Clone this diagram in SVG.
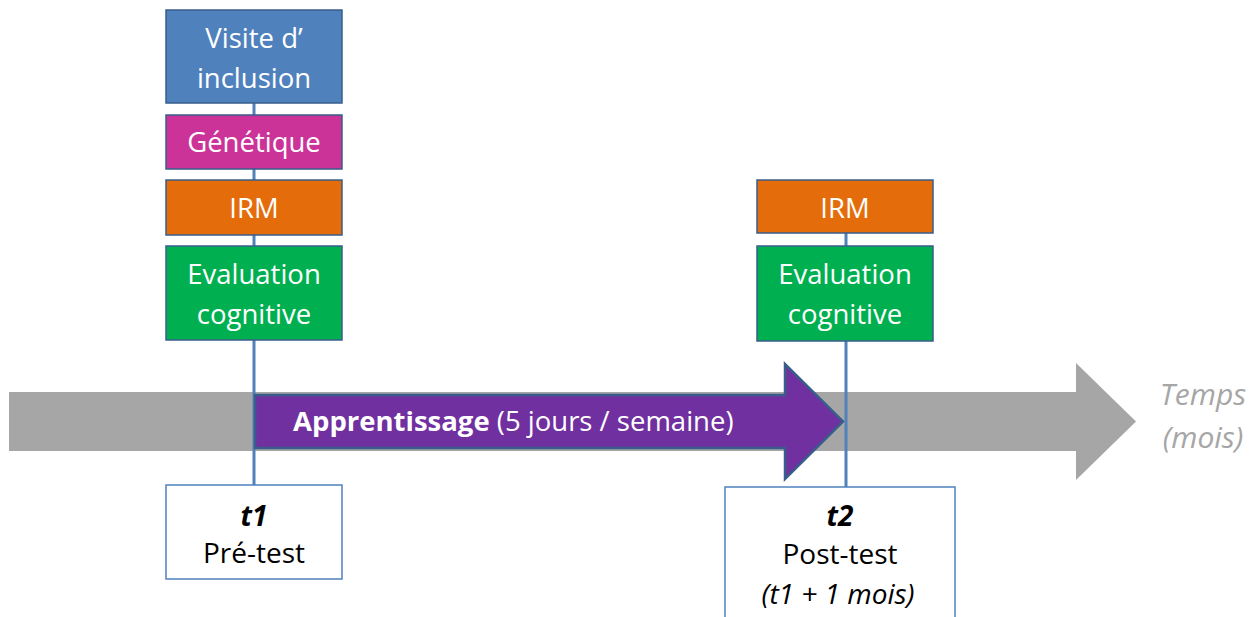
<svg xmlns="http://www.w3.org/2000/svg" width="1257" height="617" viewBox="0 0 1257 617">
<style>
.box{stroke:#385d8a;stroke-width:1.5}
.wt{fill:#fff;font-family:"Open Sans","Liberation Sans",sans-serif;font-size:27.5px;text-anchor:middle}
.bt{fill:#000;font-family:"Open Sans","Liberation Sans",sans-serif;font-size:28px;text-anchor:middle}
.ln{stroke:#4f81bd;stroke-width:3;fill:none}
</style>
<rect width="1257" height="617" fill="#fff"/>
<g id="timeline">
<polygon points="9,392 1076,392 1076,363 1136,421.5 1076,480 1076,451 9,451" fill="#a6a6a6"/>
<text x="1203" y="405" fill="#a6a6a6" font-family="Open Sans, Liberation Sans, sans-serif" font-size="30" font-style="italic" text-anchor="middle">Temps</text>
<text x="1203" y="448" fill="#a6a6a6" font-family="Open Sans, Liberation Sans, sans-serif" font-size="30" font-style="italic" text-anchor="middle">(mois)</text>
</g>
<g id="connectors">
<line class="ln" x1="254" y1="103" x2="254" y2="485"/>
<line class="ln" x1="846" y1="233" x2="846" y2="487"/>
</g>
<g id="apprentissage">
<polygon points="255,395 785,395 785,364 843,421.5 785,479 785,448 255,448" fill="#7030a0" stroke="#385d8a" stroke-width="2.5"/>
<text x="293" y="431" fill="#fff" font-family="Open Sans, Liberation Sans, sans-serif" font-size="27.5"><tspan font-weight="bold">Apprentissage</tspan> (5 jours / semaine)</text>
</g>
<g id="visite">
<rect class="box" x="166" y="10" width="176" height="93" fill="#4f81bd"/>
<text class="wt" x="254" y="48">Visite d’</text>
<text class="wt" x="254" y="88">inclusion</text>
</g>
<g id="genetique">
<rect class="box" x="166" y="115" width="176" height="54" fill="#cc3399"/>
<text class="wt" x="254" y="152">Génétique</text>
</g>
<g id="irm1">
<rect class="box" x="166" y="180" width="176" height="55" fill="#e46c0a"/>
<text class="wt" x="254" y="218">IRM</text>
</g>
<g id="eval1">
<rect class="box" x="166" y="246" width="176" height="94" fill="#00b050"/>
<text class="wt" x="254" y="284">Evaluation</text>
<text class="wt" x="254" y="324">cognitive</text>
</g>
<g id="irm2">
<rect class="box" x="757" y="180" width="176" height="53" fill="#e46c0a"/>
<text class="wt" x="845" y="218">IRM</text>
</g>
<g id="eval2">
<rect class="box" x="757" y="246" width="176" height="95" fill="#00b050"/>
<text class="wt" x="845" y="284">Evaluation</text>
<text class="wt" x="845" y="324">cognitive</text>
</g>
<g id="t1">
<rect x="166" y="485" width="176" height="94" fill="#fff" stroke="#4f81bd" stroke-width="1.5"/>
<text class="bt" x="254" y="526" font-weight="bold" font-style="italic">t1</text>
<text class="bt" x="254" y="563">Pré-test</text>
</g>
<g id="t2">
<rect x="725" y="487" width="230" height="140" fill="#fff" stroke="#4f81bd" stroke-width="1.5"/>
<text class="bt" x="840" y="526" font-weight="bold" font-style="italic">t2</text>
<text class="bt" x="840" y="564">Post-test</text>
<text class="bt" x="838" y="604" font-style="italic" font-size="30">(t1 + 1 mois)</text>
</g>
</svg>
